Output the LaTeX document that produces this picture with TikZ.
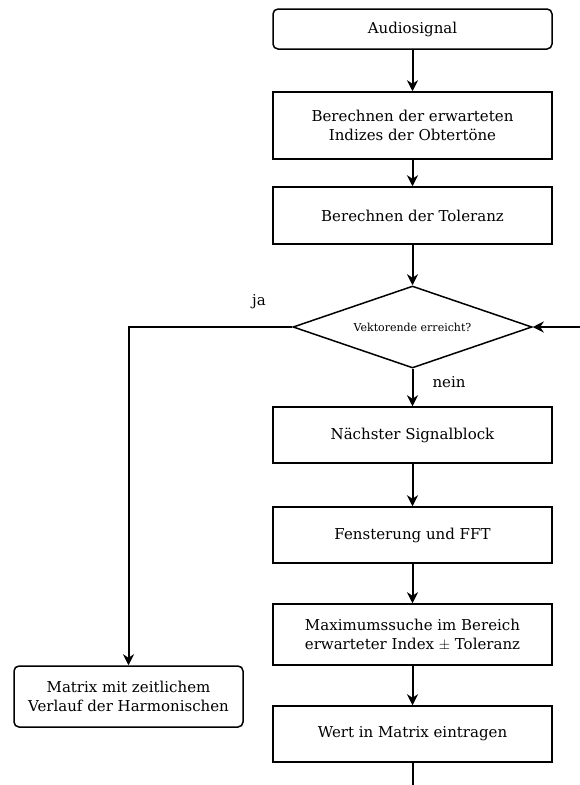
\documentclass[tikz,border=0pt]{standalone}
\usepackage{fontspec}
\setmainfont{DejaVu Serif}
\usetikzlibrary{shapes.geometric,arrows.meta}
\tikzset{
  box/.style={draw,line width=1.5pt,minimum width=279pt,inner sep=0pt,align=center,font=\fontsize{15}{19}\selectfont},
  rbox/.style={box,rounded corners=5pt},
  decision/.style={draw,line width=1.5pt,diamond,aspect=2.9,minimum width=239pt,minimum height=82pt,inner sep=0pt,font=\fontsize{11}{13}\selectfont},
  conn/.style={line width=2pt,-{Stealth[length=11pt,width=11pt,inset=3.5pt]}},
  lbl/.style={font=\fontsize{15}{19}\selectfont,inner sep=0pt}
}
\begin{document}
\begin{tikzpicture}[x=1pt,y=-1pt]
\useasboundingbox (0,0) rectangle (580,785);
\clip (0,0) rectangle (580,785);
\node[rbox,minimum height=40pt] (audio) at (412.5,29) {Audiosignal};
\node[box,minimum height=67pt] (idx) at (412.5,125.5) {Berechnen der erwarteten\\Indizes der Obtertöne};
\node[box,minimum height=57pt] (tol) at (412.5,215.5) {Berechnen der Toleranz};
\node[decision] (dec) at (412.5,327) {Vektorende erreicht?};
\node[box,minimum height=56pt] (next) at (412.5,435) {Nächster Signalblock};
\node[box,minimum height=56pt] (fft) at (412.5,535) {Fensterung und FFT};
\node[box,minimum height=61pt] (max) at (412.5,634.5) {Maximumssuche im Bereich\\erwarteter Index $\pm$ Toleranz};
\node[box,minimum height=56pt] (wert) at (412.5,734) {Wert in Matrix eintragen};
\node[rbox,minimum width=229pt,minimum height=61pt] (mat) at (128.5,696.5) {Matrix mit zeitlichem\\Verlauf der Harmonischen};
\coordinate (loopin) at (585,327);
\coordinate (loopout) at (412.5,795);
\node[lbl] (ja) at (259,302) {ja};
\node[lbl] (nein) at (449,382) {nein};
\draw[conn] (audio) -- (idx);
\draw[conn] (idx) -- (tol);
\draw[conn] (tol) -- (dec);
\draw[conn] (dec) -- (next);
\draw[conn] (next) -- (fft);
\draw[conn] (fft) -- (max);
\draw[conn] (max) -- (wert);
\draw[conn] (dec.west) -| (mat.north);
\draw[conn] (loopin) -- (dec.east);
\draw[line width=2pt] (wert) -- (loopout);
\end{tikzpicture}
\end{document}
